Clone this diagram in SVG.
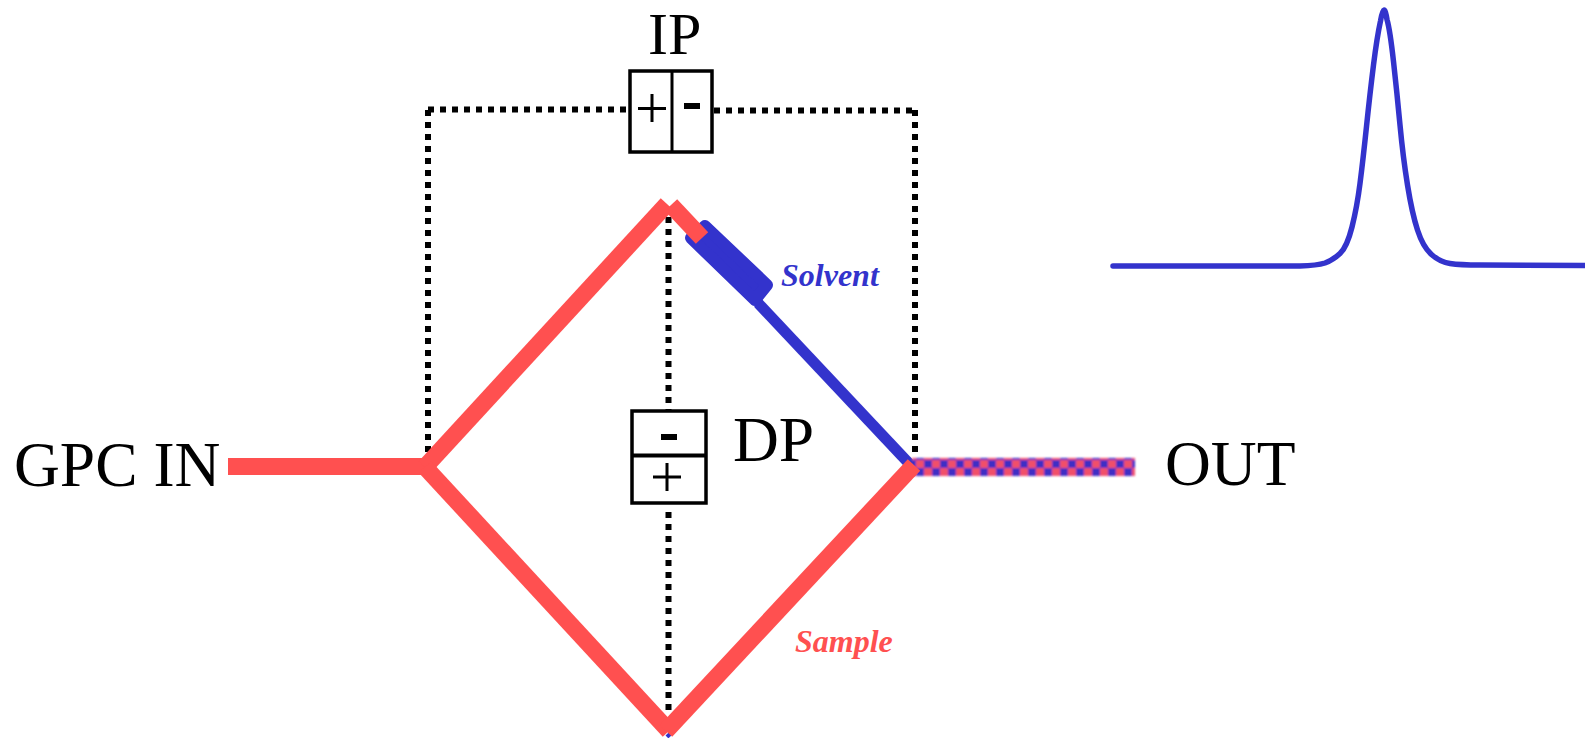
<svg xmlns="http://www.w3.org/2000/svg" width="1585" height="738" viewBox="0 0 1585 738">
<style>
.lab{font-family:"Liberation Serif","Times New Roman",serif;font-size:63.500px;fill:#000}
.tag{font-family:"Liberation Serif","Times New Roman",serif;font-size:32px;font-weight:bold;font-style:italic}
.dot{fill:none;stroke:#000;stroke-width:6;stroke-dasharray:6 6}
.red{fill:none;stroke:#FF5050;stroke-width:17}
.blue{fill:none;stroke:#3333CC;stroke-width:11}
.box{fill:#fff;stroke:#000;stroke-width:3.500}
.thin{stroke:#000;stroke-width:3;fill:none}
.fat{fill:#000}
</style>
<defs>
<pattern id="chk" width="16" height="16" patternUnits="userSpaceOnUse" x="916" y="460">
<rect width="16" height="16" fill="#3F2FC4"/>
<rect width="8" height="8" fill="#F0506A"/>
<rect x="8" y="8" width="8" height="8" fill="#F0506A"/>
</pattern>
<filter id="soft" x="-2%" y="-20%" width="104%" height="140%"><feGaussianBlur stdDeviation="1.200"/></filter>
</defs>
<rect width="1585" height="738" fill="#fff"/>
<g id="connectors">
<path class="dot" d="M428 109.500H626"/>
<path class="dot" d="M714 110.500H915"/>
<path class="dot" d="M428 110V455"/>
<path class="dot" d="M915 110V455"/>
<path class="dot" d="M668.500 217V410"/>
<path class="dot" d="M668.500 512V716"/>
<path class="blue" d="M758 303L918 473"/>
<path d="M667 737L673 731" fill="none" stroke="#3333CC" stroke-width="4"/>
<path d="M691 238L705 226L767 285L755 300Z" fill="#3333CC" stroke="#3333CC" stroke-width="12" stroke-linejoin="round"/>
<rect x="912" y="458" width="223" height="18" fill="url(#chk)" filter="url(#soft)"/>
<path class="red" d="M671 205L702 238"/>
<path class="red" d="M228 466.500H426"/>
<path class="red" d="M425 467L667 204"/>
<path class="red" d="M425 467L669 731"/>
<path class="red" d="M666 731L914 465"/>
</g>
<g id="ip">
<rect class="box" x="630" y="71" width="82" height="81"/>
<path class="thin" d="M672 71V152"/>
<path class="thin" d="M638 108.500H666M652 94V122"/>
<rect class="fat" x="684" y="103" width="16" height="6"/>
<text class="lab" x="648" y="54" style="font-size:60px">IP</text>
</g>
<g id="dp">
<rect class="box" x="632" y="411" width="74" height="92"/>
<path d="M632 455.500H706" stroke="#000" stroke-width="4"/>
<rect class="fat" x="661" y="434" width="16" height="6"/>
<path class="thin" d="M653 477H681M667 463V491"/>
<text class="lab" x="733" y="461">DP</text>
</g>
<g id="gpc-in"><text class="lab" x="14" y="486">GPC IN</text></g>
<g id="out"><text class="lab" x="1165" y="485">OUT</text></g>
<g id="solvent"><text class="tag" x="781" y="286" fill="#3333CC">Solvent</text></g>
<g id="sample"><text class="tag" x="795" y="652" fill="#FF5050">Sample</text></g>
<g id="peak">
<path fill="none" stroke="#3333CC" stroke-width="5.500" stroke-linecap="round" stroke-linejoin="round" d="M1113 266L1300 266Q1317 265.500 1325 263Q1333 260 1340 253.500Q1347 247 1352 227Q1357 207 1360 183.500Q1363 160 1366.500 126.500Q1370 93 1373.500 65Q1377 37 1380.500 21Q1384 0 1387 19.500Q1390 30 1393.500 61.500Q1397 93 1400 125Q1403 157 1407.500 185Q1412 213 1417.500 230Q1423 247 1431.500 254.500Q1440 262 1450 263.500Q1460 265 1480 265L1585 265.500"/>
</g>
</svg>
